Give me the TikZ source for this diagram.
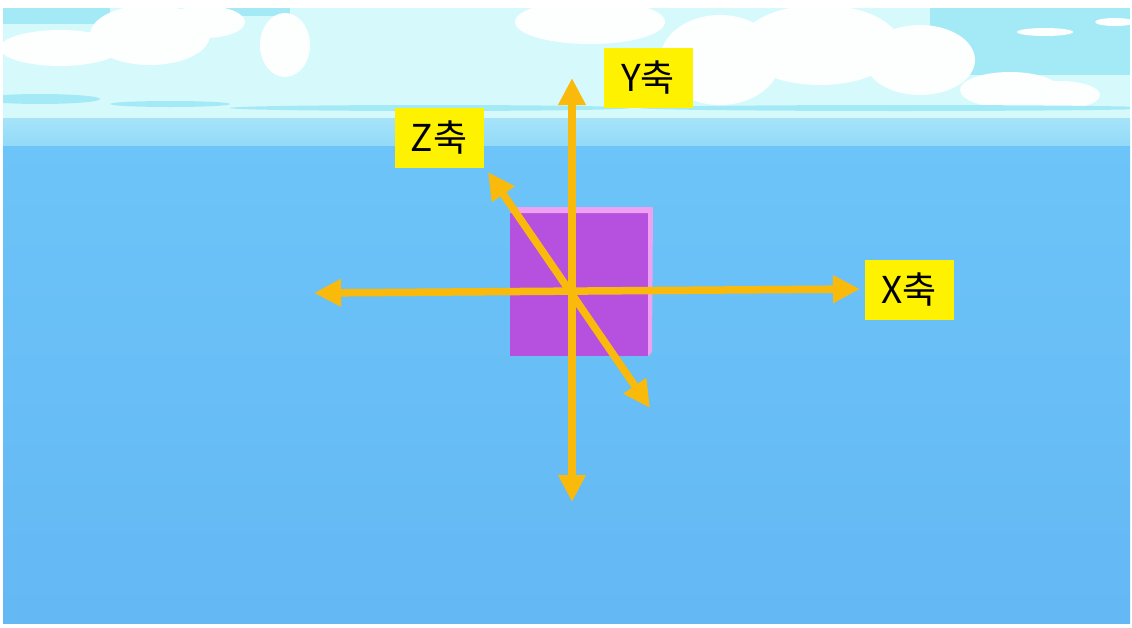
\documentclass[tikz,border=0pt]{standalone}
\usepackage{fontspec}
\setmainfont{Liberation Sans}
\newfontfamily\kor{Noto Sans CJK KR}
\usetikzlibrary{arrows.meta}

\definecolor{seablue}{RGB}{108,196,248}
\definecolor{seadeep}{RGB}{100,184,244}
\definecolor{horizon}{RGB}{146,218,248}
\definecolor{skyhaze}{RGB}{214,249,251}
\definecolor{skyblue}{RGB}{164,234,246}
\definecolor{cubefront}{RGB}{182,80,222}
\definecolor{cubetop}{RGB}{240,160,240}
\definecolor{axisorange}{RGB}{250,186,12}

\begin{document}
\begin{tikzpicture}
	[x=1pt, y=-1pt,
	axis/.style={draw=axisorange, line width=7.5pt,
		{Triangle[width=26pt,length=27pt]}-{Triangle[width=26pt,length=27pt]}},
	axislabel/.style={fill=yellow, inner sep=0pt, minimum width=89pt,
		minimum height=60pt, font=\kor\fontsize{37}{40}\selectfont},
	cloud/.style={fill=white!94!skyhaze}]
	\useasboundingbox (0,0) rectangle (1132,627);
	\fill[white] (0,0) rectangle (1132,627);
	% sky with clouds
	\begin{scope}
		\clip (3,8) rectangle (1130,120);
		\fill[skyhaze] (3,8) rectangle (1130,120);
		\fill[skyblue] (3,8) rectangle (110,24);
		\fill[skyblue] (200,8) rectangle (290,16);
		\fill[skyblue] (930,8) rectangle (1130,75);
		\fill[cloud] (150,35) ellipse (60 and 30);
		\fill[cloud] (205,22) ellipse (40 and 16);
		\fill[cloud] (60,48) ellipse (60 and 18);
		\fill[cloud] (285,45) ellipse (25 and 32);
		\fill[cloud] (590,22) ellipse (75 and 22);
		\fill[cloud] (720,60) ellipse (60 and 45);
		\fill[cloud] (820,45) ellipse (80 and 40);
		\fill[cloud] (920,60) ellipse (55 and 35);
		\fill[cloud] (1010,90) ellipse (50 and 18);
		\fill[cloud] (1060,95) ellipse (40 and 14);
		\fill[cloud] (1045,32) ellipse (28 and 4);
		\fill[cloud] (1115,22) ellipse (20 and 4);
		\fill[skyblue] (40,99) ellipse (60 and 5);
		\fill[skyblue] (170,104) ellipse (60 and 3);
		\fill[skyblue] (430,108) ellipse (200 and 3);
		\fill[skyblue] (900,108) ellipse (260 and 3);
	\end{scope}
	% horizon and sea
	\shade[top color=horizon!70!skyhaze, bottom color=horizon] (3,118) rectangle (1130,146);
	\shade[top color=seablue, bottom color=seadeep] (3,146) rectangle (1130,623);
	% the box
	\fill[cubefront] (510,213) rectangle (648,356);
	\fill[cubetop] (510,213) -- (518,207) -- (653,207) -- (648,213) -- cycle;
	\fill[cubetop] (648,213) -- (653,207) -- (652,352) -- (648,356) -- cycle;
	% axes
	\coordinate (o) at (572,291);
	\coordinate (ytop) at (572,78);
	\coordinate (ybot) at (572,502);
	\coordinate (xleft) at (314,293);
	\coordinate (xright) at (860,289);
	\coordinate (zback) at (488,172);
	\coordinate (zfront) at (650,408);
	\draw[axis] (xleft) -- (xright);
	\draw[axis] (ybot) -- (ytop);
	\draw[axis] (zfront) -- (zback);
	\node (xlab) [axislabel] at (909,290) {X축};
	\node (ylab) [axislabel] at (648,78) {Y축};
	\node (zlab) [axislabel] at (439,138) {Z축};
\end{tikzpicture}
\end{document}
